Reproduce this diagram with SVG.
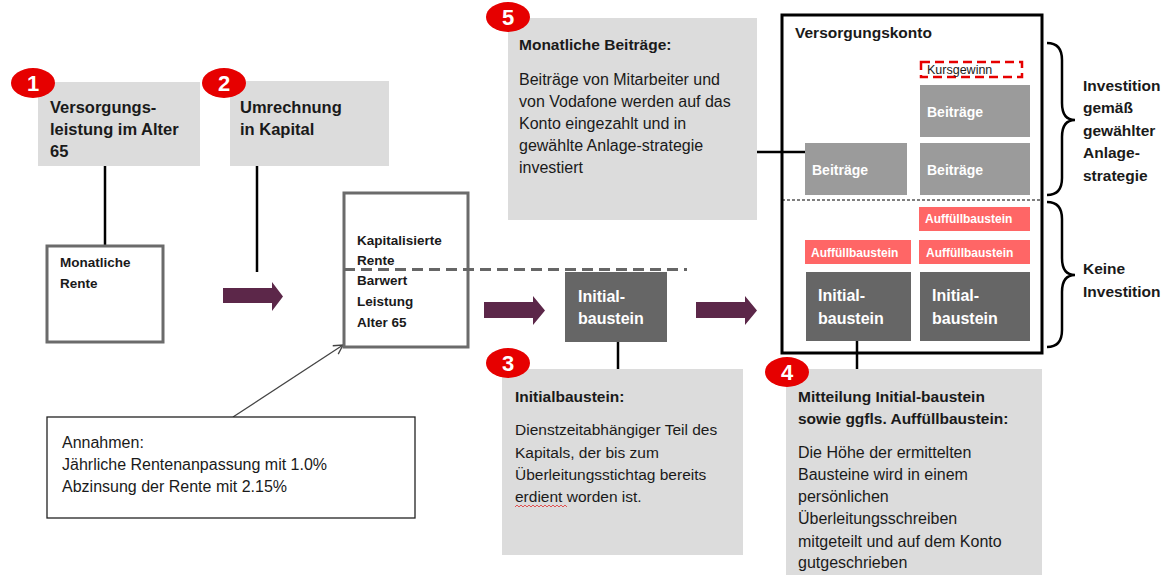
<svg xmlns="http://www.w3.org/2000/svg" width="1176" height="575" viewBox="0 0 1176 575">
<style>
text{font-family:"Liberation Sans",Arial,sans-serif;fill:#1a1a1a}
.h16{font-size:16.5px;font-weight:bold}
.h15{font-size:15.5px;font-weight:bold}
.h13{font-size:13.5px;font-weight:bold}
.t15{font-size:16px}
.t14{font-size:15.5px}
.w{fill:#ffffff;font-weight:bold}
.gbox{fill:#dcdcdc}
.dark{fill:#666666}
.mid{fill:#9b9b9b}
.pink{fill:#ff6666}
.wbox{fill:#ffffff;stroke:#6b6b6b;stroke-width:3}
.badge{fill:#e60000}
.num{fill:#ffffff;font-weight:bold;font-size:22px;text-anchor:middle}
.ln{stroke:#000;stroke-width:2.5;fill:none}
.arr{fill:#5c2749}
.brace{fill:none;stroke:#000;stroke-width:2.5}
</style>
<defs>
<marker id="open" markerWidth="12" markerHeight="12" refX="10" refY="6" orient="auto" markerUnits="userSpaceOnUse">
<path d="M1,1 L10,6 L1,11" fill="none" stroke="#444" stroke-width="1.3"/>
</marker>
</defs>
<rect width="1176" height="575" fill="#ffffff"/>

<g id="connectors">
<line class="ln" x1="105" y1="166" x2="105" y2="246"/>
<line class="ln" x1="257" y1="166" x2="257" y2="272"/>
<line class="ln" x1="757" y1="152" x2="805" y2="152"/>
<line class="ln" x1="618" y1="342" x2="618" y2="369"/>
<line class="ln" x1="857" y1="341" x2="857" y2="369"/>
<line x1="233" y1="417" x2="343" y2="345" stroke="#444" stroke-width="1.3" marker-end="url(#open)"/>
<path class="arr" d="M223,288 L272,288 L272,282 L283,296.5 L272,311 L272,303 L223,303 Z"/>
<path class="arr" d="M484,302 L533,302 L533,296 L545,310.5 L533,325 L533,318 L484,318 Z"/>
<path class="arr" d="M696,302 L745,302 L745,296 L757,310.5 L745,325 L745,318 L696,318 Z"/>
</g>

<g id="node-1">
<rect class="gbox" x="38" y="82" width="162" height="84"/>
<text class="h16" x="50" y="113">Versorgungs-</text>
<text class="h16" x="50" y="135">leistung im Alter</text>
<text class="h16" x="50" y="157">65</text>
<ellipse class="badge" cx="33" cy="83" rx="22" ry="15"/>
<text class="num" x="33" y="91">1</text>
</g>

<g id="node-monatliche-rente">
<rect class="wbox" x="47" y="246" width="116" height="96"/>
<text class="h13" x="60" y="267">Monatliche</text>
<text class="h13" x="60" y="288">Rente</text>
</g>

<g id="node-2">
<rect class="gbox" x="230" y="81" width="159" height="85"/>
<text class="h16" x="240" y="113">Umrechnung</text>
<text class="h16" x="240" y="135">in Kapital</text>
<ellipse class="badge" cx="224" cy="83" rx="22" ry="15"/>
<text class="num" x="224" y="91">2</text>
</g>

<g id="node-kapital">
<rect class="wbox" x="344" y="193" width="124" height="154"/>
<text class="h13" x="357" y="245">Kapitalisierte</text>
<text class="h13" x="357" y="265">Rente</text>
<text class="h13" x="357" y="285">Barwert</text>
<text class="h13" x="357" y="306">Leistung</text>
<text class="h13" x="357" y="327">Alter 65</text>
</g>

<g id="node-initial">
<rect class="dark" x="565" y="272" width="102" height="70"/>
<text class="w" font-size="16" x="578" y="302">Initial-</text>
<text class="w" font-size="16" x="578" y="324">baustein</text>
</g>

<g id="divider">
<line x1="344" y1="269.5" x2="687" y2="269.5" stroke="#666" stroke-width="3" stroke-dasharray="11,6"/>
</g>

<g id="node-5">
<rect class="gbox" x="508" y="18" width="249" height="202"/>
<text class="h15" font-size="16" x="519" y="50">Monatliche Beiträge:</text>
<text class="t15" x="519" y="85">Beiträge von Mitarbeiter und</text>
<text class="t15" x="519" y="107">von Vodafone werden auf das</text>
<text class="t15" x="519" y="129">Konto eingezahlt und in</text>
<text class="t15" x="519" y="151">gewählte Anlage-strategie</text>
<text class="t15" x="519" y="173">investiert</text>
<ellipse class="badge" cx="508" cy="17" rx="22" ry="15"/>
<text class="num" x="508" y="25">5</text>
</g>

<g id="node-versorgungskonto">
<rect x="782" y="15" width="260" height="338" fill="none" stroke="#000" stroke-width="3"/>
<text class="h15" font-size="17" x="795" y="38">Versorgungskonto</text>
<rect x="921" y="62" width="101" height="15" fill="none" stroke="#e60000" stroke-width="2.5" stroke-dasharray="9,5"/>
<text font-size="12.5" x="927" y="74">Kursgewinn</text>
<rect class="mid" x="920" y="85" width="110" height="52"/>
<text class="w" font-size="14" x="927" y="117">Beiträge</text>
<rect class="mid" x="805" y="143" width="102" height="52"/>
<text class="w" font-size="14" x="812" y="175">Beiträge</text>
<rect class="mid" x="920" y="143" width="110" height="52"/>
<text class="w" font-size="14" x="927" y="175">Beiträge</text>
<line x1="782" y1="200" x2="1042" y2="200" stroke="#000" stroke-width="1.2" stroke-dasharray="3,2"/>
<rect class="pink" x="919" y="207" width="111" height="24"/>
<text class="w" font-size="12" x="925" y="223">Auffüllbaustein</text>
<rect class="pink" x="805" y="240" width="106" height="24"/>
<text class="w" font-size="12" x="811" y="257">Auffüllbaustein</text>
<rect class="pink" x="919" y="240" width="111" height="24"/>
<text class="w" font-size="12" x="926" y="257">Auffüllbaustein</text>
<rect class="dark" x="806" y="272" width="105" height="69"/>
<text class="w" font-size="16" x="818" y="301">Initial-</text>
<text class="w" font-size="16" x="818" y="324">baustein</text>
<rect class="dark" x="920" y="272" width="110" height="69"/>
<text class="w" font-size="16" x="932" y="301">Initial-</text>
<text class="w" font-size="16" x="932" y="324">baustein</text>
</g>

<g id="brace-investition">
<path class="brace" d="M1047,43 Q1062,43 1062,60 L1062,103 Q1062,120 1075,120 Q1062,120 1062,137 L1062,178 Q1062,195 1047,195"/>
<text class="h15" font-size="16" x="1083" y="91">Investition</text>
<text class="h15" font-size="16" x="1083" y="113">gemäß</text>
<text class="h15" font-size="16" x="1083" y="136">gewählter</text>
<text class="h15" font-size="16" x="1083" y="158">Anlage-</text>
<text class="h15" font-size="16" x="1083" y="181">strategie</text>
</g>

<g id="brace-keine">
<path class="brace" d="M1047,202 Q1062,202 1062,219 L1062,258 Q1062,275 1075,275 Q1062,275 1062,292 L1062,330 Q1062,347 1047,347"/>
<text class="h15" font-size="16" x="1083" y="274">Keine</text>
<text class="h15" font-size="16" x="1083" y="297">Investition</text>
</g>

<g id="node-annahmen">
<rect x="47" y="417" width="368" height="101" fill="#ffffff" stroke="#222" stroke-width="1.3"/>
<text class="t15" x="62" y="448">Annahmen:</text>
<text class="t15" x="62" y="470">Jährliche Rentenanpassung mit 1.0%</text>
<text class="t15" x="62" y="492">Abzinsung der Rente mit 2.15%</text>
</g>

<g id="node-3">
<rect class="gbox" x="502" y="369" width="241" height="186"/>
<text class="h15" font-size="15" x="515" y="402">Initialbaustein:</text>
<text class="t14" x="515" y="435">Dienstzeitabhängiger Teil des</text>
<text class="t14" x="515" y="458">Kapitals, der bis zum</text>
<text class="t14" x="515" y="480">Überleitungsstichtag bereits</text>
<text class="t14" x="515" y="502">erdient worden ist.</text>
<path d="M515,507 l2,-2 l2,2 l2,-2 l2,2 l2,-2 l2,2 l2,-2 l2,2 l2,-2 l2,2 l2,-2 l2,2 l2,-2 l2,2 l2,-2 l2,2 l2,-2 l2,2 l2,-2 l2,2 l2,-2 l2,2 l2,-2 l2,2 l2,-2 l2,2" fill="none" stroke="#e03030" stroke-width="0.8"/>
<ellipse class="badge" cx="508" cy="363" rx="22" ry="15"/>
<text class="num" x="508" y="371">3</text>
</g>

<g id="node-4">
<rect class="gbox" x="786" y="369" width="256" height="206"/>
<text class="h15" x="798" y="402">Mitteilung Initial-baustein</text>
<text class="h15" x="798" y="424">sowie ggfls. Auffüllbaustein:</text>
<text class="t15" x="798" y="458">Die Höhe der ermittelten</text>
<text class="t15" x="798" y="480">Bausteine wird in einem</text>
<text class="t15" x="798" y="502">persönlichen</text>
<text class="t15" x="798" y="524">Überleitungsschreiben</text>
<text class="t15" x="798" y="547">mitgeteilt und auf dem Konto</text>
<text class="t15" x="798" y="568">gutgeschrieben</text>
<ellipse class="badge" cx="787" cy="372" rx="22" ry="15"/>
<text class="num" x="787" y="380">4</text>
</g>
</svg>
